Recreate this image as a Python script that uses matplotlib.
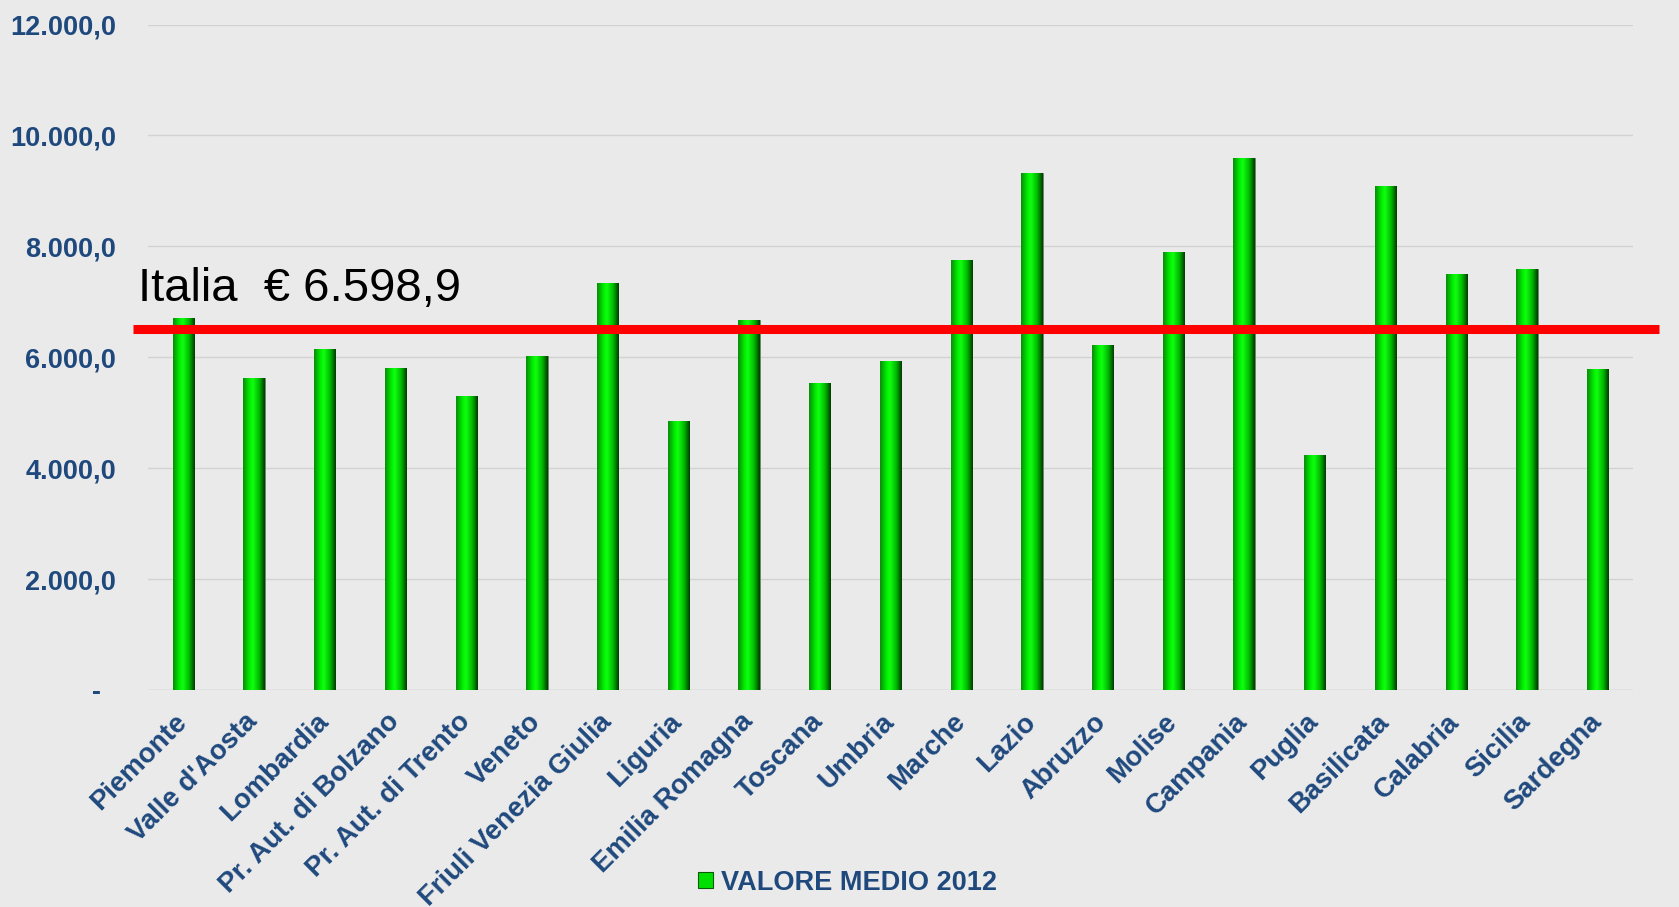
import matplotlib
matplotlib.use("Agg")
import matplotlib.pyplot as plt
import matplotlib.transforms as mtransforms
from matplotlib.patches import Patch
from matplotlib.colors import LinearSegmentedColormap
import numpy as np

# ---------------- data ----------------
regions = ["Piemonte", "Valle d'Aosta", "Lombardia", "Pr. Aut. di Bolzano",
           "Pr. Aut. di Trento", "Veneto", "Friuli Venezia Giulia", "Liguria",
           "Emilia Romagna", "Toscana", "Umbria", "Marche", "Lazio", "Abruzzo",
           "Molise", "Campania", "Puglia", "Basilicata", "Calabria", "Sicilia",
           "Sardegna"]
valore_medio_2012 = [6710, 5630, 6150, 5800, 5310, 6020, 7340, 4850, 6680,
                     5540, 5930, 7760, 9330, 6220, 7900, 9590, 4230, 9080,
                     7500, 7600, 5780]
series_label = "VALORE MEDIO 2012"
italia_label = "Italia  \u20ac 6.598,9"
italia_line_value = 6515
y_ticks = [0, 2000, 4000, 6000, 8000, 10000, 12000]

# ---------------- style ----------------
W, H, DPI = 1679, 907, 100
BG = "#EAEAEA"
LABEL_COLOR = "#1F497D"
FONT = "Liberation Sans"
plt.rcParams["font.family"] = [FONT, "DejaVu Sans"]

fig = plt.figure(figsize=(W / DPI, H / DPI), dpi=DPI, facecolor=BG)
left, right = 148 / W, 1633 / W
bottom, top = 1 - 690 / H, 1 - 24.5 / H
ax = fig.add_axes([left, bottom, right - left, top - bottom])
ax.set_facecolor(BG)

x = np.arange(len(regions))
bar_w = 0.30

# cylinder-like green gradient
cmap = LinearSegmentedColormap.from_list(
    "cyl", [(0.0, "#0A8A0A"), (0.3, "#00F000"), (0.45, "#10FF10"),
            (0.75, "#00B800"), (1.0, "#003A00")])
grad = np.linspace(0, 1, 64).reshape(1, -1)

bars = ax.bar(x, valore_medio_2012, width=bar_w, color="#00E000",
              edgecolor="#6A7A6A", linewidth=0.6, zorder=3)
for rect in bars:
    x0 = rect.get_x()
    h = rect.get_height()
    im = ax.imshow(grad, extent=(x0, x0 + rect.get_width(), 0, h),
                   aspect="auto", cmap=cmap, zorder=3.1, interpolation="bicubic")
    im.set_clip_path(rect)

ax.set_xlim(-0.5, len(regions) - 0.5)
ax.set_ylim(0, 12000)
ax.set_yticks(y_ticks)


def it_fmt(v):
    if v == 0:
        return "-  "
    s = f"{v:,.1f}"
    return s.replace(",", "X").replace(".", ",").replace("X", ".")


ax.set_yticklabels([it_fmt(v) for v in y_ticks])
ax.set_xticks(x)
ax.set_xticklabels(regions, rotation=45, ha="right", rotation_mode="default")

for lab in ax.get_yticklabels():
    lab.set_fontsize(19.5)
    lab.set_fontweight("bold")
    lab.set_color(LABEL_COLOR)
for lab in ax.get_xticklabels():
    lab.set_fontsize(19.8)
    lab.set_fontweight("bold")
    lab.set_color(LABEL_COLOR)

ax.tick_params(axis="y", length=0, pad=23)
ax.tick_params(axis="x", length=0, pad=13.5)
offset = mtransforms.ScaledTranslation(9 / DPI, 0, fig.dpi_scale_trans)
for lab in ax.get_xticklabels():
    lab.set_transform(lab.get_transform() + offset)

ax.grid(axis="y", color="#D2D2D2", linewidth=1.0, zorder=0)
ax.set_axisbelow(True)
for s in ax.spines.values():
    s.set_visible(False)
ax.axhline(0, color="#D2D2D2", linewidth=1.0, zorder=1)

# Italia average line
blend = mtransforms.blended_transform_factory(ax.transAxes, ax.transData)
ax.plot([(133 - 148) / 1485, (1659 - 148) / 1485],
        [italia_line_value, italia_line_value], transform=blend,
        color="#FF0000", linewidth=6.5, solid_capstyle="butt",
        clip_on=False, zorder=5)
ax.text((138 - 148) / 1485, 7020, italia_label, transform=blend,
        fontsize=34, color="black", ha="left", va="baseline", zorder=6)

# legend
handle = Patch(facecolor="#00E000", edgecolor="#0A5A0A", linewidth=0.8)
leg = fig.legend([handle], [series_label], loc="center",
                 bbox_to_anchor=(0.505, 0.027), frameon=False,
                 prop={"family": FONT, "weight": "bold", "size": 19.5},
                 handlelength=0.55, handleheight=0.55, handletextpad=0.3)
for t in leg.get_texts():
    t.set_color(LABEL_COLOR)

fig.savefig("out.png", dpi=DPI, facecolor=BG)
